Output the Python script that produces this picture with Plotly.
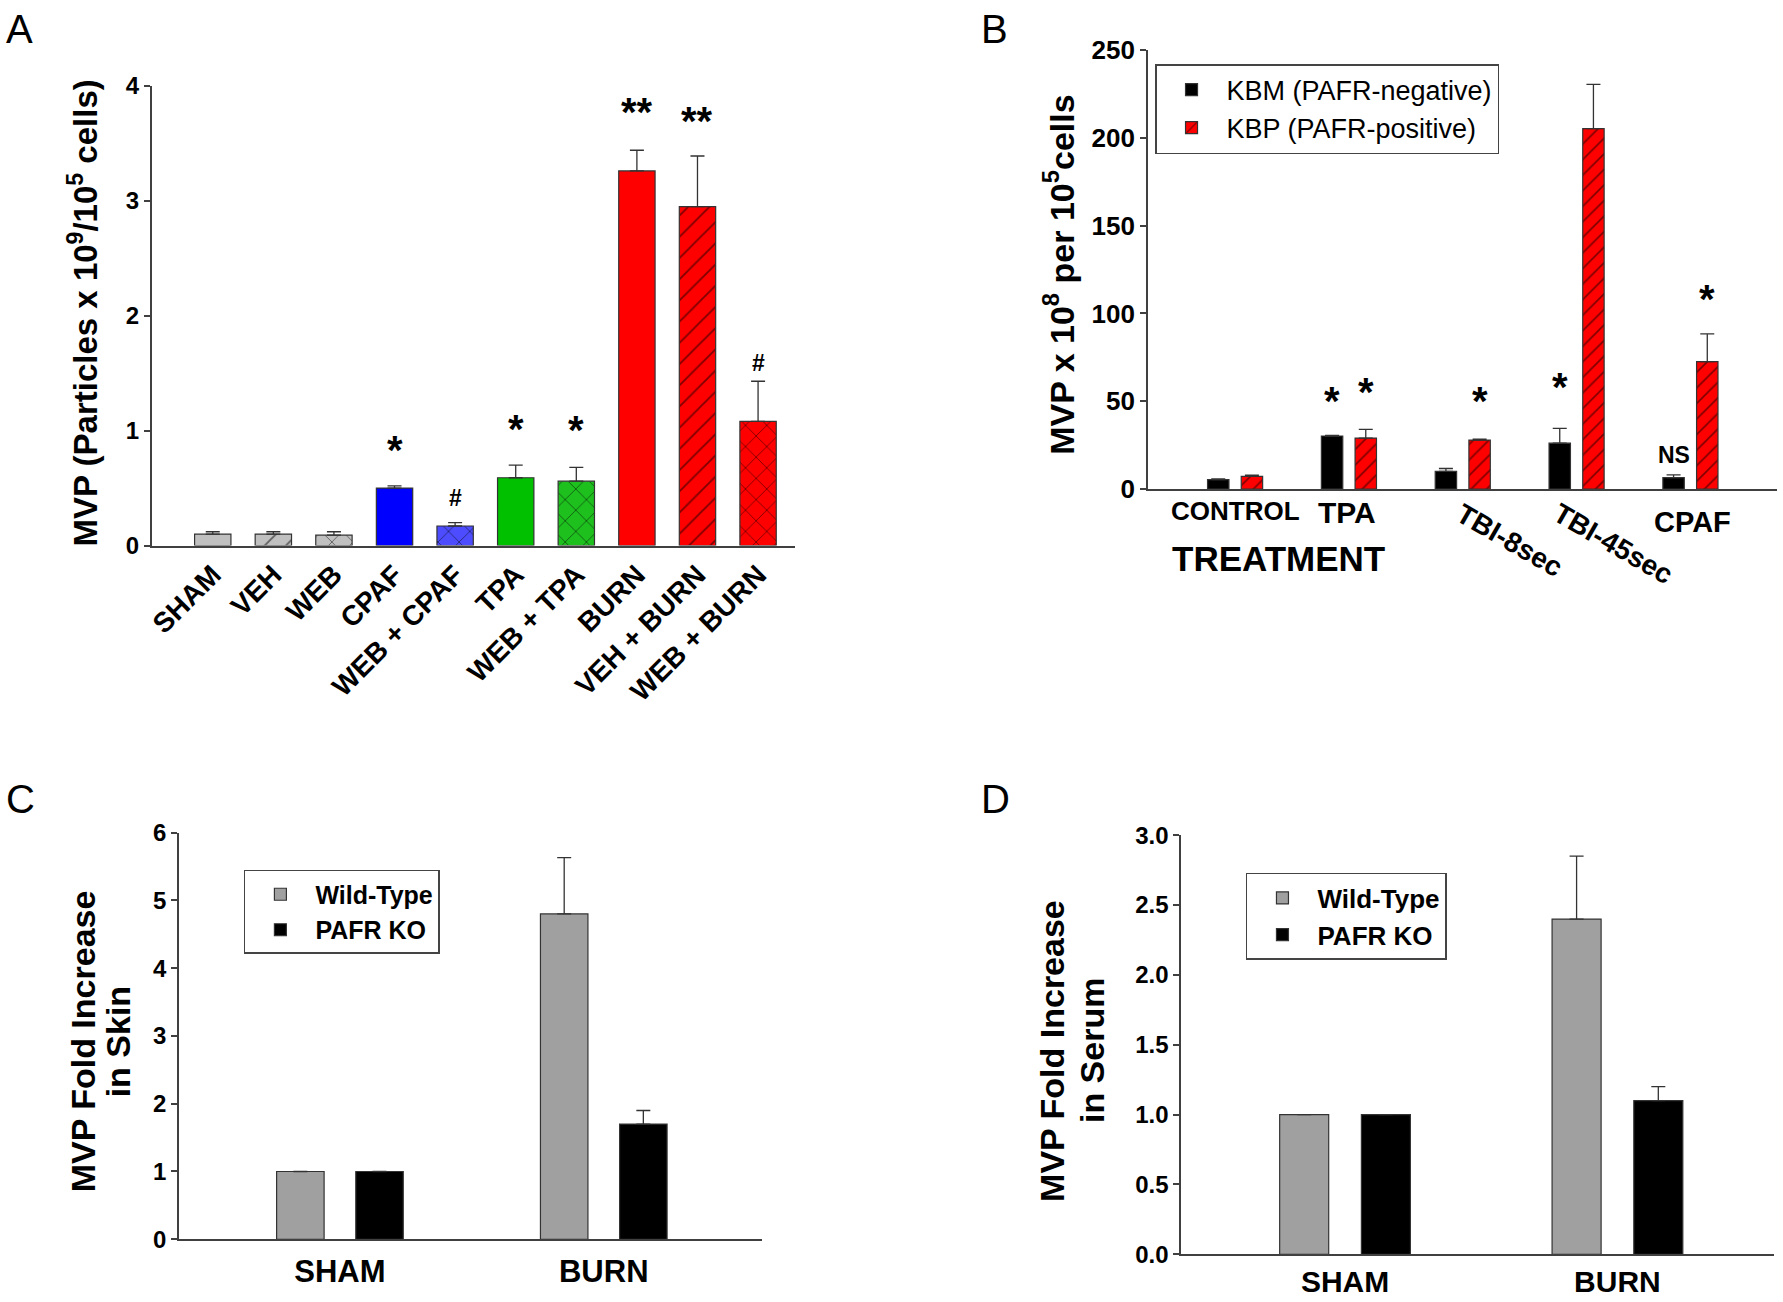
import plotly.graph_objects as go

# ---- Panel A: MVP per condition ----
a_groups = ["SHAM", "VEH", "WEB", "CPAF", "WEB + CPAF", "TPA",
            "WEB + TPA", "BURN", "VEH + BURN", "WEB + BURN"]
a_mvp = [0.10, 0.10, 0.09, 0.50, 0.17, 0.59, 0.56, 3.26, 2.95, 1.08]
a_sem = [0.02, 0.02, 0.03, 0.02, 0.03, 0.11, 0.12, 0.18, 0.44, 0.35]
a_marks = ["", "", "", "*", "#", "*", "*", "**", "**", "#"]
a_mark_y = [None, None, None, 0.86, 0.41, 1.04, 1.03, 3.80, 3.72, 1.59]

# ---- Panel B: KBM vs KBP cells ----
b_groups = ["CONTROL", "TPA", "TBI-8sec", "TBI-45sec", "CPAF"]
b_kbm = [5.4, 30.2, 10.1, 26.1, 6.5]
b_kbm_sem = [0.4, 0.3, 1.6, 8.4, 1.6]
b_kbp = [7.2, 29.0, 27.9, 205.2, 72.5]
b_kbp_sem = [0.7, 5.0, 0.5, 25.2, 15.8]
b_kbm_marks = ["", "*", "", "*", "NS"]
b_kbm_mark_y = [None, 52, None, 60, 19.6]
b_kbp_marks = ["", "*", "*", "*", "*"]
b_kbp_mark_y = [None, 57, 52, 256, 110]

# ---- Panels C and D: fold increase, wild-type vs PAFR KO ----
cd_groups = ["SHAM", "BURN"]
c_wt = [1.0, 4.8]
c_wt_sem = [None, 0.83]
c_ko = [1.0, 1.7]
c_ko_sem = [None, 0.2]
c_star_y = 6.29
d_wt = [1.0, 2.4]
d_wt_sem = [None, 0.45]
d_ko = [1.0, 1.1]
d_ko_sem = [None, 0.1]
d_star_y = 3.14

# styles
a_colors = ["#c0c0c0", "#c0c0c0", "#c0c0c0", "#0000ff", "#4d4dff",
            "#00c000", "#1ec01e", "#ff0000", "#ff0000", "#ff0000"]
a_hatch = ["", "/", "x", "", "x", "", "x", "", "/", "x"]
ARIAL = "Liberation Sans, Arial, sans-serif"
OUTLINE = dict(color="#333333", width=1.2)


def err(vals):
    return dict(type="data", symmetric=False, array=vals,
                arrayminus=[0] * len(vals), color="#333333",
                thickness=1.3, width=7)


fig = go.Figure()

# A: one trace per bar so each keeps its own fill and hatch
for g, v, e, c, h in zip(a_groups, a_mvp, a_sem, a_colors, a_hatch):
    fig.add_trace(go.Bar(
        x=[g], y=[v], xaxis="x", yaxis="y", width=0.6,
        marker=dict(color=c, line=OUTLINE,
                    pattern=dict(shape=h, fgcolor="black", size=15, solidity=0.12)),
        error_y=err([e]), showlegend=False,
    ))

# B: two bars per treatment
bw = 0.188
fig.add_trace(go.Bar(
    x=b_groups, y=b_kbm, xaxis="x2", yaxis="y2", width=bw, offset=-0.148 - bw / 2,
    marker=dict(color="black", line=OUTLINE),
    error_y=err(b_kbm_sem), name="KBM (PAFR-negative)", legend="legend",
))
fig.add_trace(go.Bar(
    x=b_groups, y=b_kbp, xaxis="x2", yaxis="y2", width=bw, offset=0.148 - bw / 2,
    marker=dict(color="#ff0000", line=OUTLINE,
                pattern=dict(shape="/", fgcolor="black", size=11, solidity=0.15)),
    error_y=err(b_kbp_sem), name="KBP (PAFR-positive)", legend="legend",
))

# C and D
cw = 0.18
for wt, wt_sem, ko, ko_sem, xa, ya, leg in [
    (c_wt, c_wt_sem, c_ko, c_ko_sem, "x3", "y3", "legend2"),
    (d_wt, d_wt_sem, d_ko, d_ko_sem, "x4", "y4", "legend3"),
]:
    fig.add_trace(go.Bar(
        x=cd_groups, y=wt, xaxis=xa, yaxis=ya, width=cw, offset=-0.15 - cw / 2,
        marker=dict(color="#a0a0a0", line=OUTLINE),
        error_y=err(wt_sem), name="Wild-Type", legend=leg,
    ))
    fig.add_trace(go.Bar(
        x=cd_groups, y=ko, xaxis=xa, yaxis=ya, width=cw, offset=0.15 - cw / 2,
        marker=dict(color="black", line=OUTLINE),
        error_y=err(ko_sem), name="PAFR KO", legend=leg,
    ))

annotations = []


def mark(text, x, y, xref, yref):
    star = "*" in text
    annotations.append(dict(
        text=text, x=x, y=y, xref=xref, yref=yref, showarrow=False,
        xanchor="center", yanchor="middle",
        font=dict(size=40 if star else 23, family=ARIAL, weight="bold"),
        yshift=-3 if star else 0,
    ))


for i, (m, yv) in enumerate(zip(a_marks, a_mark_y)):
    if m:
        mark(m, i, yv, "x", "y")
for i, (m, yv) in enumerate(zip(b_kbm_marks, b_kbm_mark_y)):
    if m:
        mark(m, i - 0.148, yv, "x2", "y2")
for i, (m, yv) in enumerate(zip(b_kbp_marks, b_kbp_mark_y)):
    if m:
        mark(m, i + 0.148, yv, "x2", "y2")
mark("*", 1 - 0.15, c_star_y, "x3", "y3")
mark("*", 1 - 0.15, d_star_y, "x4", "y4")

# B category labels (some rotated)
b_label_angle = [0, 0, 30, 30, 0]
b_label_size = [26, 30, 28, 28, 29]
b_label_y = [0.6075, 0.6064, 0.5845, 0.5822, 0.599]
b_label_shift = [0, -2, 47, 36, 2]
for i, g in enumerate(b_groups):
    annotations.append(dict(
        text=g, x=i, y=b_label_y[i], xref="x2", yref="paper", showarrow=False,
        xanchor="center", yanchor="middle",
        textangle=b_label_angle[i], xshift=b_label_shift[i],
        font=dict(size=b_label_size[i], family=ARIAL, weight="bold"),
    ))
annotations.append(dict(text="TREATMENT", x=0.7171, y=0.5714, xref="paper", yref="paper",
                        xanchor="center", yanchor="middle", showarrow=False,
                        font=dict(size=35, family=ARIAL, weight="bold")))

# axis titles
titles = [
    ("MVP (Particles x 10<sup>9</sup>/10<sup>5</sup> cells)", 0.0471, 0.760, 33),
    ("MVP x 10<sup>8</sup> per 10<sup>5</sup>cells", 0.594, 0.789, 34),
    ("MVP Fold Increase", 0.04655, 0.2002, 34),
    ("in Skin", 0.06618, 0.2002, 34),
    ("MVP Fold Increase", 0.590, 0.1928, 34),
    ("in Serum", 0.6125, 0.1928, 34),
]
for t, x, y, s in titles:
    annotations.append(dict(text=t, x=x, y=y, xref="paper", yref="paper", showarrow=False,
                            xanchor="center", yanchor="middle", textangle=-90,
                            font=dict(size=s, family=ARIAL, weight="bold")))

# panel letters
for t, x, y in [("A", 0.002, 0.996), ("B", 0.549, 0.996), ("C", 0.002, 0.405), ("D", 0.549, 0.405)]:
    annotations.append(dict(text=t, x=x, y=y, xref="paper", yref="paper", showarrow=False,
                            xanchor="left", yanchor="top", font=dict(size=40, family=ARIAL)))

axis_common = dict(showline=True, linecolor="#404040", linewidth=1.5, showgrid=False,
                   zeroline=False, automargin=False)
xcat = dict(axis_common, type="category", ticks="")
ytick = dict(axis_common, ticks="outside", ticklen=6, tickwidth=1.5, tickcolor="#404040")

legend_common = dict(xanchor="left", yanchor="top", bgcolor="white", bordercolor="#444444",
                     borderwidth=1.5, itemwidth=60, tracegroupgap=0)

fig.update_layout(
    width=1783, height=1302,
    margin=dict(l=0, r=0, t=0, b=0, autoexpand=False),
    plot_bgcolor="white", paper_bgcolor="white", barmode="overlay",
    font=dict(family=ARIAL, color="black"),
    xaxis=dict(xcat, domain=[0.085, 0.4459], anchor="y", range=[-1.01, 9.61],
               tickangle=-45, tickfont=dict(size=28, weight="bold")),
    yaxis=dict(ytick, domain=[0.581, 0.934], anchor="x", range=[0, 4], dtick=1,
               tickfont=dict(size=24, weight="bold")),
    xaxis2=dict(xcat, domain=[0.6438, 0.9966], anchor="y2", range=[-0.766, 4.76],
                showticklabels=False),
    yaxis2=dict(ytick, domain=[0.6244, 0.9616], anchor="x2", range=[0, 250], dtick=50,
                tickfont=dict(size=26, weight="bold")),
    xaxis3=dict(xcat, domain=[0.1004, 0.4274], anchor="y3", range=[-0.61, 1.6],
                ticklabelstandoff=4, tickfont=dict(size=31, weight="bold")),
    yaxis3=dict(ytick, domain=[0.0482, 0.3605], anchor="x3", range=[0, 6], dtick=1,
                tickfont=dict(size=24, weight="bold")),
    xaxis4=dict(xcat, domain=[0.6624, 0.995], anchor="y4", range=[-0.602, 1.575],
                tickfont=dict(size=30, weight="bold")),
    yaxis4=dict(ytick, domain=[0.0366, 0.3585], anchor="x4", range=[0, 3], dtick=0.5,
                tickformat=".1f", tickfont=dict(size=24, weight="bold")),
    legend=dict(legend_common, x=0.6478, y=0.9508, font=dict(size=27)),
    legend2=dict(legend_common, x=0.1368, y=0.3318, font=dict(size=25, weight="bold")),
    legend3=dict(legend_common, x=0.6988, y=0.3295, font=dict(size=26, weight="bold")),
    annotations=annotations,
)

fig.write_html("out.html", config={"displayModeBar": False},
               post_script="document.body.style.margin='0';")
